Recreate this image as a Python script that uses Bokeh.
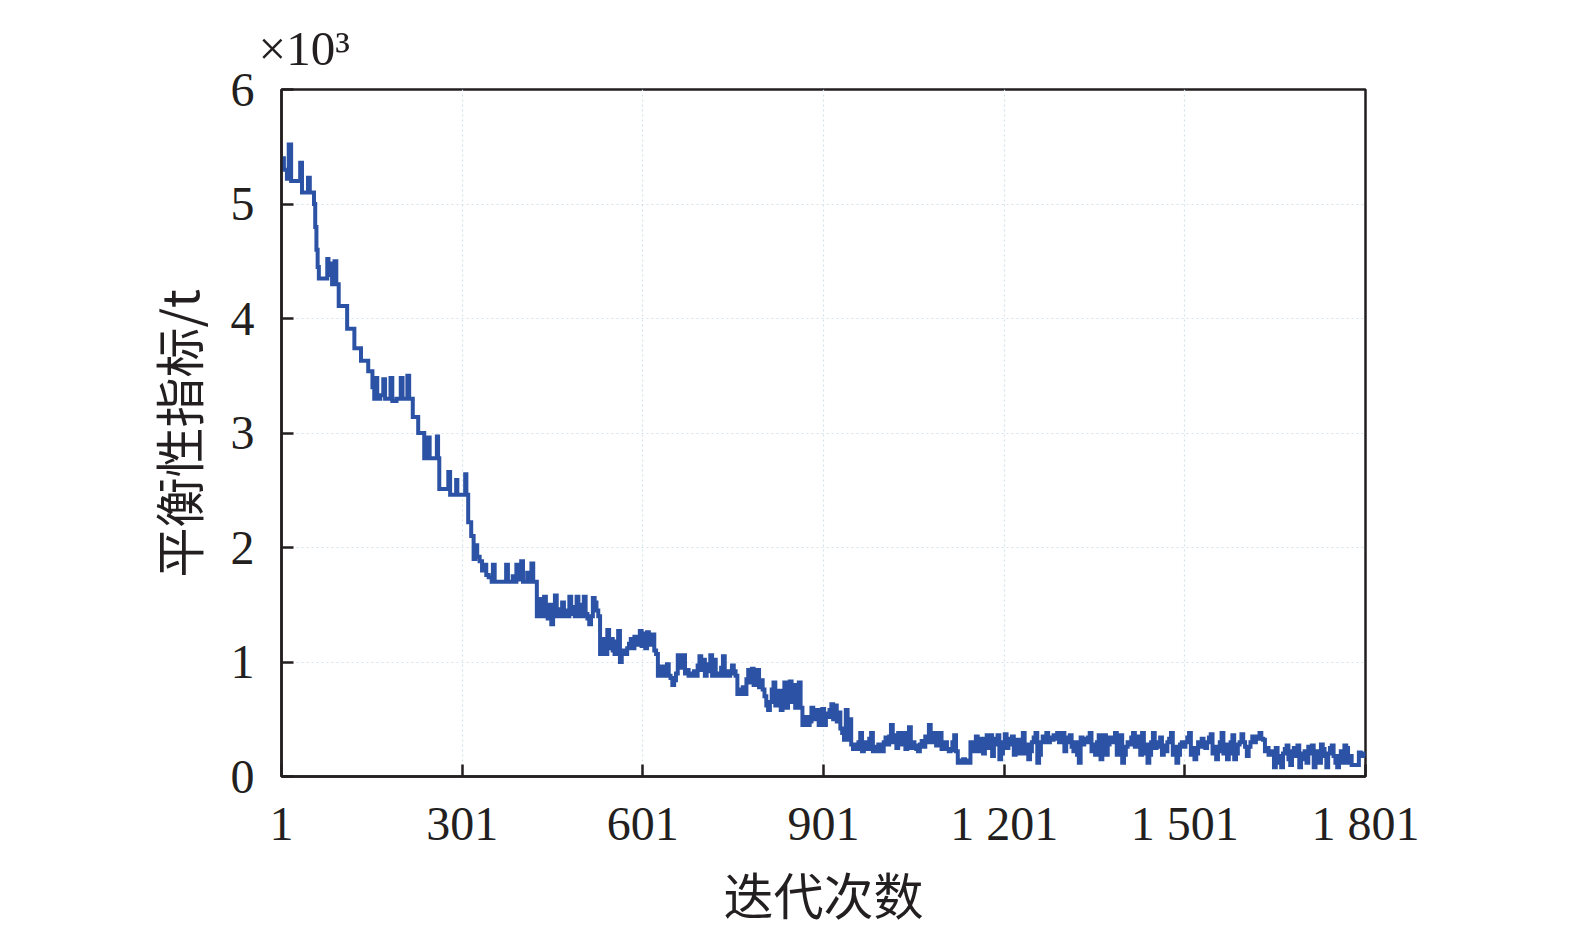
from bokeh.plotting import figure
from bokeh.models import Range1d, FixedTicker
from bokeh.embed import file_html
from bokeh.resources import INLINE

# ---------------- data: balance index (x10^3 t) per iteration ----------------
# early descent, irregular breakpoints
iters_a = [
    1, 5, 10, 13, 17, 32, 35, 45, 48, 55, 57, 59, 61, 63, 77, 79, 82, 85, 89, 92,
    96, 110, 122, 133, 145, 152, 155, 158, 160, 165, 170, 173, 182, 185, 192, 199, 202, 210, 213, 219,
    228, 238, 244, 247, 259, 261, 263, 278, 281, 291, 293, 306, 308, 311, 316, 320, 323, 326, 330, 334,
    338, 341, 345, 350, 352, 355, 374, 377, 385, 388, 391, 394, 399, 402, 409, 412, 416, 419,
]
vals_a = [
    5.40, 5.30, 5.22, 5.52, 5.20, 5.36, 5.10, 5.23, 5.10, 5.00, 4.80, 4.60, 4.45, 4.35, 4.52, 4.38, 4.48, 4.30, 4.50, 4.30,
    4.11, 3.91, 3.74, 3.63, 3.54, 3.40, 3.30, 3.48, 3.30, 3.33, 3.47, 3.30, 3.48, 3.28, 3.30, 3.48, 3.30, 3.50, 3.30, 3.14,
    3.00, 2.78, 2.96, 2.78, 2.97, 2.78, 2.51, 2.66, 2.46, 2.59, 2.46, 2.64, 2.46, 2.22, 2.10, 1.90, 2.02, 1.92, 1.88, 1.80,
    1.85, 1.76, 1.74, 1.70, 1.85, 1.70, 1.85, 1.70, 1.75, 1.70, 1.85, 1.72, 1.88, 1.70, 1.78, 1.70, 1.86, 1.70,
]
# iterations 425..527, every 3rd
vals_b1 = [
    1.40, 1.48, 1.55, 1.40, 1.57, 1.42, 1.38, 1.50, 1.33, 1.42,
    1.58, 1.40, 1.46, 1.40, 1.52, 1.40, 1.45, 1.40, 1.57, 1.42,
    1.48, 1.40, 1.57, 1.40, 1.50, 1.40, 1.57, 1.42, 1.38, 1.33,
    1.40, 1.56, 1.52, 1.45, 1.40,
]
# iterations 530..623
vals_b2 = [
    1.07, 1.15, 1.20, 1.07, 1.28, 1.12, 1.20, 1.10, 1.07, 1.18,
    1.27, 1.00, 1.07, 1.10, 1.07, 1.12, 1.16, 1.20, 1.12, 1.22,
    1.15, 1.20, 1.27, 1.14, 1.25, 1.12, 1.26, 1.15, 1.20, 1.24,
    1.10, 1.07,
]
# iterations 626..755
vals_b3 = [
    0.88, 0.92, 0.96, 0.88, 0.92, 0.98, 0.88, 0.86, 0.80, 0.84,
    0.90, 1.06, 0.95, 1.00, 1.06, 0.90, 0.93, 0.88, 0.90, 0.88,
    0.92, 0.88, 0.97, 1.05, 0.93, 1.02, 0.88, 0.92, 0.98, 1.06,
    0.88, 1.02, 0.88, 0.90, 0.88, 0.95, 1.05, 0.88, 0.92, 0.88,
    0.90, 0.97, 0.92, 0.88,
]
# iterations 758..803
vals_b4 = [0.72, 0.76, 0.72, 0.78, 0.72, 0.85, 0.93, 0.82, 0.94, 0.80, 0.90, 0.93, 0.78, 0.84, 0.76, 0.70]
# iterations 806..863
vals_b5 = [0.62, 0.58, 0.65, 0.76, 0.82, 0.62, 0.70, 0.75, 0.58, 0.72,
           0.82, 0.60, 0.75, 0.83, 0.65, 0.80, 0.60, 0.70, 0.82, 0.60]
# iterations 866..950
vals_b6 = [0.45, 0.50, 0.52, 0.45, 0.48, 0.60, 0.50, 0.55, 0.58, 0.45,
           0.52, 0.59, 0.45, 0.55, 0.52, 0.58, 0.63, 0.50, 0.62, 0.48,
           0.56, 0.42, 0.38, 0.32, 0.58, 0.32, 0.50, 0.28, 0.24]
# iterations 953..1121
vals_c1 = [
    0.28, 0.24, 0.30, 0.38, 0.22, 0.27, 0.30, 0.24, 0.33, 0.38,
    0.22, 0.26, 0.22, 0.28, 0.24, 0.22, 0.30, 0.34, 0.28, 0.35,
    0.45, 0.30, 0.36, 0.25, 0.38, 0.28, 0.33, 0.38, 0.24, 0.30,
    0.43, 0.25, 0.30, 0.27, 0.24, 0.22, 0.28, 0.31, 0.26, 0.35,
    0.30, 0.45, 0.30, 0.36, 0.38, 0.27, 0.33, 0.38, 0.24, 0.28,
    0.30, 0.24, 0.22, 0.23, 0.30, 0.36, 0.22,
]
# iterations 1124..1196
vals_c2 = [
    0.12, 0.14, 0.12, 0.15, 0.12, 0.14, 0.12, 0.30, 0.22, 0.30,
    0.35, 0.22, 0.28, 0.33, 0.20, 0.30, 0.36, 0.25, 0.36, 0.18,
    0.28, 0.33, 0.36, 0.15, 0.20,
]
# iterations 1199..1646
vals_c3 = [
    0.30, 0.37, 0.25, 0.33, 0.28, 0.35, 0.19, 0.28, 0.32, 0.20,
    0.30, 0.38, 0.20, 0.28, 0.15, 0.22, 0.30, 0.34, 0.38, 0.12,
    0.19, 0.30, 0.35, 0.30, 0.38, 0.30, 0.34, 0.32, 0.36, 0.33,
    0.38, 0.30, 0.34, 0.38, 0.22, 0.30, 0.34, 0.36, 0.26, 0.22,
    0.30, 0.19, 0.12, 0.34, 0.28, 0.33, 0.30, 0.34, 0.38, 0.22,
    0.28, 0.19, 0.30, 0.36, 0.15, 0.30, 0.36, 0.19, 0.28, 0.34,
    0.30, 0.33, 0.38, 0.19, 0.30, 0.36, 0.12, 0.19, 0.26, 0.30,
    0.28, 0.34, 0.38, 0.26, 0.30, 0.35, 0.19, 0.38, 0.20, 0.28,
    0.12, 0.19, 0.30, 0.38, 0.25, 0.30, 0.26, 0.34, 0.19, 0.27,
    0.22, 0.30, 0.33, 0.38, 0.19, 0.26, 0.12, 0.19, 0.28, 0.30,
    0.26, 0.30, 0.34, 0.38, 0.19, 0.25, 0.15, 0.20, 0.30, 0.26,
    0.33, 0.28, 0.25, 0.30, 0.34, 0.37, 0.20, 0.26, 0.15, 0.22,
    0.30, 0.38, 0.20, 0.28, 0.15, 0.20, 0.30, 0.36, 0.15, 0.20,
    0.28, 0.30, 0.37, 0.30, 0.26, 0.18, 0.26, 0.30, 0.35, 0.30,
    0.33, 0.35, 0.38, 0.33, 0.32, 0.22, 0.25, 0.19, 0.22, 0.20,
]
# iterations 1649..1799, then 1801
vals_c4 = [
    0.08, 0.25, 0.18, 0.12, 0.08, 0.20, 0.24, 0.27, 0.15, 0.10,
    0.22, 0.25, 0.18, 0.27, 0.08, 0.20, 0.15, 0.22, 0.12, 0.26,
    0.20, 0.27, 0.08, 0.18, 0.22, 0.12, 0.28, 0.24, 0.18, 0.08,
    0.20, 0.25, 0.27, 0.18, 0.12, 0.08, 0.18, 0.22, 0.12, 0.27,
    0.25, 0.12, 0.18, 0.10, 0.10, 0.10, 0.10, 0.21, 0.18, 0.20,
    0.18, 0.18,
]

iterations = (iters_a
              + list(range(425, 528, 3)) + list(range(530, 624, 3)) + list(range(626, 756, 3))
              + list(range(758, 804, 3)) + list(range(806, 864, 3)) + list(range(866, 951, 3))
              + list(range(953, 1122, 3)) + list(range(1124, 1197, 3)) + list(range(1199, 1647, 3))
              + list(range(1649, 1800, 3)) + [1801])
balance_index = (vals_a + vals_b1 + vals_b2 + vals_b3 + vals_b4 + vals_b5 + vals_b6
                 + vals_c1 + vals_c2 + vals_c3 + vals_c4)
assert len(iterations) == len(balance_index), (len(iterations), len(balance_index))

x_ticks = [1, 301, 601, 901, 1201, 1501, 1801]
x_tick_labels = ["1", "301", "601", "901", "1 201", "1 501", "1 801"]
y_ticks = [0, 1, 2, 3, 4, 5, 6]
x_title = "迭代次数"
y_title = "平衡性指标/t"
multiplier = "×10³"

# ---------------- figure ----------------
SERIF = "Liberation Serif"
CJK = "Noto Sans CJK SC"
INK = "#231f20"
LINE = "#2b52a5"

p = figure(width=1559, height=931, output_backend="svg", toolbar_location=None,
           x_range=Range1d(1, 1801), y_range=Range1d(0, 6),
           min_border_left=281, min_border_right=194, min_border_top=89, min_border_bottom=140)
p.background_fill_color = "white"
p.border_fill_color = "white"
p.outline_line_color = INK
p.outline_line_width = 2.5
p.outline_line_alpha = 1.0

p.step(iterations, balance_index, mode="after", line_width=4, line_color=LINE,
       line_join="miter")

for ax in (p.xaxis[0], p.yaxis[0]):
    ax.axis_line_color = INK
    ax.axis_line_width = 2.5
    ax.major_tick_line_color = INK
    ax.major_tick_line_width = 2.5
    ax.major_tick_in = 12
    ax.major_tick_out = 0
    ax.minor_tick_line_color = None
    ax.major_label_text_font = SERIF
    ax.major_label_text_font_size = "48px"
    ax.major_label_text_color = INK
    ax.axis_label_text_font = CJK
    ax.axis_label_text_font_size = "50px"
    ax.axis_label_text_font_style = "normal"
    ax.axis_label_text_color = INK

p.xaxis.ticker = FixedTicker(ticks=x_ticks)
p.xaxis.major_label_overrides = {t: s for t, s in zip(x_ticks, x_tick_labels)}
p.xaxis.major_label_standoff = 20
p.xaxis.axis_label = x_title
p.xaxis.axis_label_standoff = 4

p.yaxis.ticker = FixedTicker(ticks=y_ticks)
p.yaxis.major_label_standoff = 27
p.yaxis.axis_label = y_title
p.yaxis.axis_label_standoff = 15

p.xgrid.ticker = FixedTicker(ticks=x_ticks)
p.ygrid.ticker = FixedTicker(ticks=y_ticks)
for g in (p.xgrid[0], p.ygrid[0]):
    g.grid_line_color = "#d6e2ea"
    g.grid_line_width = 1.2
    g.grid_line_dash = "2 3"

# multiplier ×10³ above the top-left corner of the frame
p.title.text = multiplier
p.title.align = "left"
p.title.offset = -23
p.title.standoff = 28
p.title.text_font = SERIF
p.title.text_font_size = "49px"
p.title.text_font_style = "normal"
p.title.text_color = INK

open("out.html", "w").write(file_html(p, INLINE))
